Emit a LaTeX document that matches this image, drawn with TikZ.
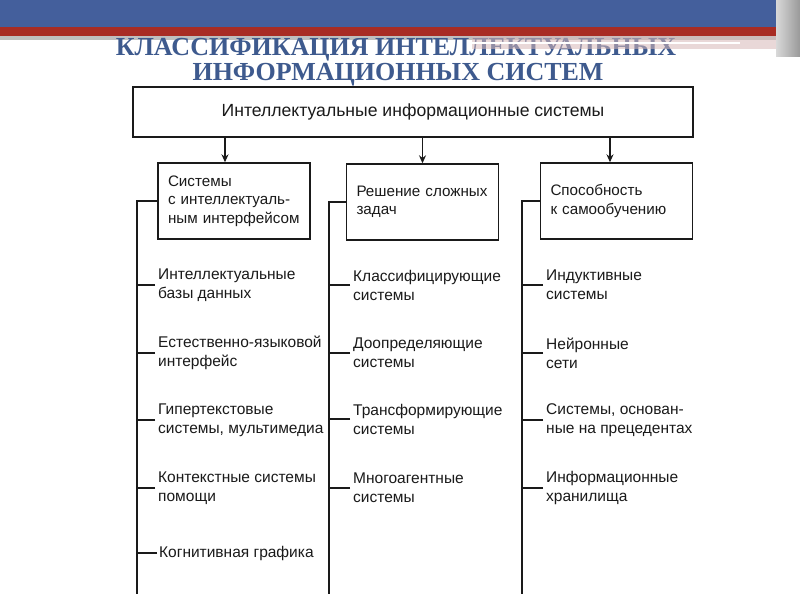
\documentclass[tikz,border=0pt]{standalone}
\usepackage{fontspec}
\setmainfont{Liberation Sans}
\newfontfamily\titlefont{Liberation Serif}
\usetikzlibrary{arrows.meta}
\definecolor{bandblue}{HTML}{445F9C}
\definecolor{bandred}{HTML}{A82C24}
\definecolor{titleblue}{HTML}{3E5A8E}
\definecolor{ink}{HTML}{1A1A1A}
\definecolor{veil}{HTML}{D8B8B8}
\begin{document}
\begin{tikzpicture}[x=1pt,y=-1pt,
  txt/.style={font=\fontsize{15.5}{19}\selectfont, text=ink},
  catbox/.style={draw=ink, line width=1.4pt, minimum width=150pt, minimum height=76pt,
     inner xsep=10pt, align=left, font=\fontsize{15.2}{18.5}\selectfont, text=ink, text width=132pt},
  item/.style={txt, align=left, anchor=west, inner xsep=3pt, inner ysep=0pt},
  conn/.style={draw=ink, line width=1.3pt},
  arr/.style={conn, -{Stealth[length=8pt,width=7pt]}},
  title/.style={font=\titlefont\bfseries\fontsize{26}{27}\selectfont, text=titleblue}
]
\useasboundingbox (0,0) rectangle (800,600);
\fill[white] (0,0) rectangle (800,600);
% banner
\fill[bandblue] (0,0) rectangle (776,27);
\fill[bandred] (0,27) rectangle (776,36);
\fill[black!25] (0,36) rectangle (776,40);
\shade[left color=black!15, right color=black!40] (776,0) rectangle (800,56);
% title
\node[title] (t1) at (396,50) {КЛАССИФИКАЦИЯ ИНТЕЛЛЕКТУАЛЬНЫХ};
\node[title] (t2) at (398,75) {ИНФОРМАЦИОННЫХ СИСТЕМ};
\fill[veil, opacity=0.55] (472,36) rectangle (776,49);
\draw[white, line width=2pt] (472,43) -- (740,43);
% top box
\node[draw=ink, fill=white, line width=1.4pt, minimum width=560pt, minimum height=50pt,
  font=\fontsize{17.6}{20}\selectfont, text=ink] (top) at (413,112)
  {Интеллектуальные информационные системы};
% category boxes
\node[catbox] (b1) at (234,201) {Системы\\с интеллектуаль-\\ным интерфейсом};
\node[catbox] (b2) at (422.5,202) {Решение сложных\\задач};
\node[catbox] (b3) at (616.5,201) {Способность\\к самообучению};
% arrows
\coordinate (a1) at (225,0);
\coordinate (a2) at (422.5,0);
\coordinate (a3) at (610,0);
\draw[arr] (top.south -| a1) -- (b1.north -| a1);
\draw[arr] (top.south -| a2) -- (b2.north -| a2);
\draw[arr] (top.south -| a3) -- (b3.north -| a3);
% trunks
\coordinate (e1) at (137,594);
\coordinate (e2) at (329,594);
\coordinate (e3) at (522,594);
\draw[conn] (b1.west) -| (e1);
\draw[conn] (b2.west) -| (e2);
\draw[conn] (b3.west) -| (e3);
% items column 1
\node[item] (l1) at (155,285) {Интеллектуальные\\базы данных};
\node[item] (l2) at (155,353) {Естественно-языковой\\интерфейс};
\node[item] (l3) at (155,420) {Гипертекстовые\\системы, мультимедиа};
\node[item] (l4) at (155,488) {Контекстные системы\\помощи};
\node[item, inner xsep=2pt] (l5) at (157,553) {Когнитивная графика};
% items column 2
\node[item] (m1) at (350,285) {Классифицирующие\\системы};
\node[item] (m2) at (350,353) {Доопределяющие\\системы};
\node[item] (m3) at (350,419) {Трансформирующие\\системы};
\node[item] (m4) at (350,488) {Многоагентные\\системы};
% items column 3
\node[item] (r1) at (543,285) {Индуктивные\\системы};
\node[item] (r2) at (543,353) {Нейронные\\сети};
\node[item] (r3) at (543,420) {Системы, основан-\\ные на прецедентах};
\node[item] (r4) at (543,488) {Информационные\\хранилища};
% stubs
\foreach \n in {l1,l2,l3,l4,l5} \draw[conn] (\n.west) -- (\n.west -| e1);
\foreach \n in {m1,m2,m3,m4} \draw[conn] (\n.west) -- (\n.west -| e2);
\foreach \n in {r1,r2,r3,r4} \draw[conn] (\n.west) -- (\n.west -| e3);
\end{tikzpicture}
\end{document}
